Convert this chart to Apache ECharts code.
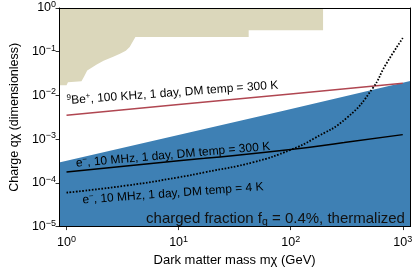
<!DOCTYPE html>
<html><head><meta charset="utf-8">
<script src="https://cdn.jsdelivr.net/npm/echarts@6/dist/echarts.min.js"></script>
<style>html,body{margin:0;padding:0;background:#fff}#c{width:415px;height:272px}</style>
</head><body><div id="c"></div>
<script>
const massRange = [0.858, 1164];
const chargeRange = [1e-5, 1];
const xTickValues = [1, 10, 100, 1000];
const yTickValues = [1e-5, 1e-4, 1e-3, 1e-2, 1e-1, 1];

// Beige excluded region, lower boundary (mass GeV, charge)
const beigeMass   = [0.858, 1.0, 1.03, 1.36, 1.44, 1.53, 1.59, 1.86, 2.14, 2.61, 3.0, 3.38, 3.66, 3.88, 4.12, 42.2, 42.2, 194.5, 194.5];
const beigeCharge = [0.0172, 0.0172, 0.0201, 0.0211, 0.0274, 0.0373, 0.0414, 0.0509, 0.0625, 0.0769, 0.0897, 0.105, 0.129, 0.167, 0.216, 0.216, 0.310, 0.310, 1];

// Blue region (charged fraction, thermalized), upper boundary
const blueMass   = [0.858, 84.5, 1164];
const blueCharge = [2.91e-4, 4.42e-3, 0.0215];

// 9Be+, 100 KHz, 1 day, DM temp = 300 K
const beMass   = [1, 10, 100, 1000];
const beCharge = [3.51e-3, 6.17e-3, 1.084e-2, 1.91e-2];

// e-, 10 MHz, 1 day, DM temp = 300 K
const e300Mass   = [1, 10, 17, 100, 300, 1000];
const e300Charge = [1.77e-4, 3.2e-4, 3.64e-4, 5.8e-4, 8.4e-4, 1.27e-3];

// e-, 10 MHz, 1 day, DM temp = 4 K
const e4Mass   = [1, 3.5, 10, 17, 47, 100, 160, 320, 540, 700, 1000];
const e4Charge = [5.97e-5, 8.75e-5, 1.34e-4, 1.74e-4, 2.99e-4, 5.7e-4, 1.02e-3, 3.13e-3, 1.47e-2, 4.91e-2, 0.205];

const FONT = '"Liberation Sans", Arial, Helvetica, sans-serif';
const zip = (a, b) => a.map((v, i) => [v, b[i]]);

function powLabel(v) {
  const e = Math.log10(v);
  const r = Math.round(e);
  if (Math.abs(e - r) > 1e-6) return '';
  return '{b|10}{s|' + (r < 0 ? '\u2212' + (-r) : r) + '}';
}
const labelRich = {
  b: { fontSize: 12.5, lineHeight: 16, fontFamily: FONT, color: '#000' },
  s: { fontSize: 9, lineHeight: 9, verticalAlign: 'top', fontFamily: FONT, color: '#000' }
};
const supRich = { s: { fontSize: 8, lineHeight: 8, verticalAlign: 'top', fontFamily: FONT, fill: '#000' } };

const chart = echarts.init(document.getElementById('c'), null, { renderer: 'canvas' });
chart.setOption({
  animation: false,
  backgroundColor: '#fff',
  grid: { left: 49, right: 3, top: 8, bottom: 41, containLabel: false },
  xAxis: [{
    type: 'log', min: massRange[0], max: massRange[1], z: 10,
    axisLine: { show: true, lineStyle: { color: '#000', width: 1 } },
    axisTick: { show: true, length: 3.5, inside: false, customValues: xTickValues, lineStyle: { color: '#000', width: 0.8 } },
    minorTick: { show: false },
    splitLine: { show: false },
    axisLabel: { customValues: xTickValues, formatter: powLabel, rich: labelRich, margin: 8 },
    name: 'Dark matter mass m\u03c7 (GeV)', nameLocation: 'middle', nameGap: 27,
    nameTextStyle: { fontSize: 13, fontFamily: FONT, color: '#000' }
  }, {
    type: 'log', position: 'top', min: massRange[0], max: massRange[1], z: 10,
    axisLine: { show: true, lineStyle: { color: '#000', width: 1 } },
    axisTick: { show: false }, axisLabel: { show: false }, splitLine: { show: false }
  }],
  yAxis: [{
    type: 'log', min: chargeRange[0], max: chargeRange[1], z: 10,
    axisLine: { show: true, lineStyle: { color: '#000', width: 1 } },
    axisTick: { show: true, length: 3.5, inside: false, customValues: yTickValues, lineStyle: { color: '#000', width: 0.8 } },
    minorTick: { show: false },
    splitLine: { show: false },
    axisLabel: { customValues: yTickValues, formatter: powLabel, rich: labelRich, margin: 3 },
    name: 'Charge q\u03c7 (dimensionless)', nameLocation: 'middle', nameGap: 32, nameRotate: 90,
    nameTextStyle: { fontSize: 12.5, fontFamily: FONT, color: '#000' }
  }, {
    type: 'log', position: 'right', min: chargeRange[0], max: chargeRange[1], z: 10,
    axisLine: { show: true, lineStyle: { color: '#000', width: 1 } },
    axisTick: { show: false }, axisLabel: { show: false }, splitLine: { show: false }
  }],
  series: [
    { type: 'line', data: zip(blueMass, blueCharge), symbol: 'none', z: 1,
      lineStyle: { width: 0 }, areaStyle: { color: '#3e80b4', opacity: 1, origin: 'start' } },
    { type: 'line', data: zip(beigeMass, beigeCharge), symbol: 'none', z: 1,
      lineStyle: { width: 0 }, areaStyle: { color: '#dbd7bb', opacity: 1, origin: 'end' } },
    { type: 'line', data: zip(beMass, beCharge), symbol: 'none', z: 3,
      lineStyle: { color: '#b04651', width: 1.5 } },
    { type: 'line', data: zip(e300Mass, e300Charge), symbol: 'none', smooth: true, z: 3,
      lineStyle: { color: '#000', width: 1.5 } },
    { type: 'line', data: zip(e4Mass, e4Charge), symbol: 'none', smooth: true, z: 3,
      lineStyle: { color: '#000', width: 1.8, type: [1.6, 1.6] } }
  ],
  graphic: [
    { type: 'text', x: 172.5, y: 93, rotation: 4.2 * Math.PI / 180, z: 20,
      style: { text: '{s|9}Be{s|+}, 100 KHz, 1 day, DM temp = 300 K', fontSize: 12, lineHeight: 14, fontFamily: FONT, fill: '#000',
        align: 'center', verticalAlign: 'middle', rich: supRich } },
    { type: 'text', x: 173, y: 155, rotation: 5 * Math.PI / 180, z: 20,
      style: { text: 'e{s|\u2212}, 10 MHz, 1 day, DM temp = 300 K', fontSize: 12, lineHeight: 14, fontFamily: FONT, fill: '#000',
        align: 'center', verticalAlign: 'middle', rich: supRich } },
    { type: 'text', x: 173, y: 193.5, rotation: 4.2 * Math.PI / 180, z: 20,
      style: { text: 'e{s|\u2212}, 10 MHz, 1 day, DM temp = 4 K', fontSize: 12, lineHeight: 14, fontFamily: FONT, fill: '#000',
        align: 'center', verticalAlign: 'middle', rich: supRich } },
    { type: 'text', x: 275.5, y: 218.5, z: 20,
      style: { text: 'charged fraction f{q|q} = 0.4%, thermalized', fontSize: 15, lineHeight: 18, fontFamily: FONT, fill: '#111',
        align: 'center', verticalAlign: 'middle',
        rich: { q: { fontSize: 10.5, lineHeight: 10, verticalAlign: 'bottom', fontFamily: FONT, fill: '#111' } } } }
  ]
});
</script></body></html>
